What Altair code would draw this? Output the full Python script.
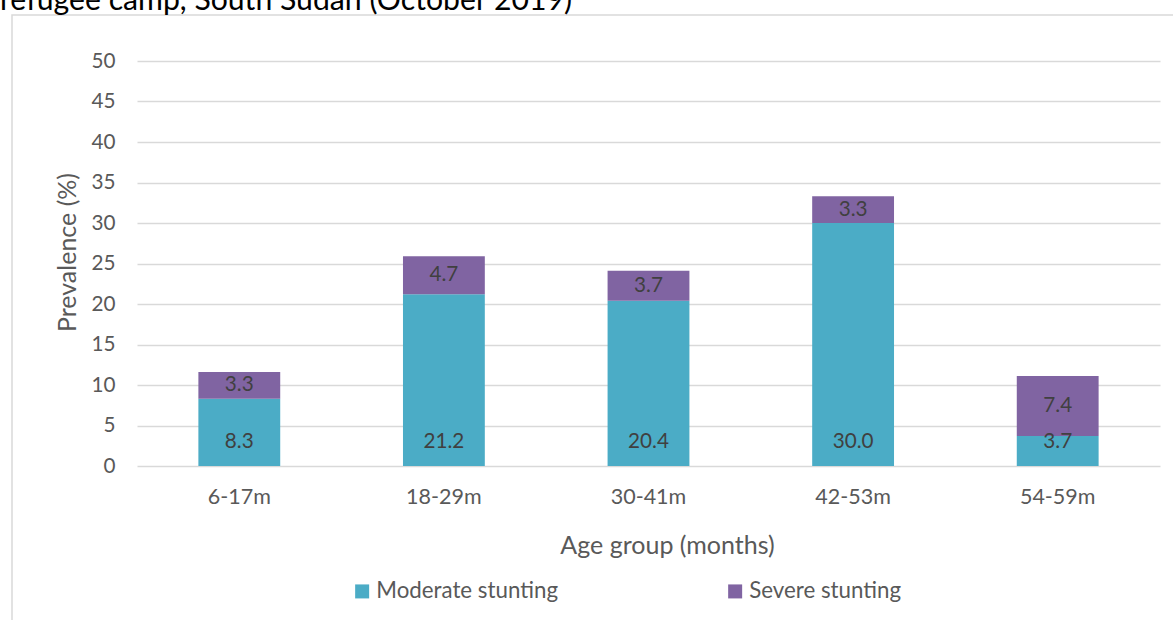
import altair as alt
import pandas as pd

# Stunting prevalence by age group, stacked by severity
ages = ["6-17m", "18-29m", "30-41m", "42-53m", "54-59m"]
moderate = [8.3, 21.2, 20.4, 30.0, 3.7]
severe = [3.3, 4.7, 3.7, 3.3, 7.4]
series = ["Moderate stunting", "Severe stunting"]
colors = ["#4BACC6", "#8064A2"]
y_ticks = [0, 5, 10, 15, 20, 25, 30, 35, 40, 45, 50]
caption = "refugee camp, South Sudan (October 2019)"

FONT = "Lato"
GRID = "#d9d9d9"
TEXT = "#595959"

rows = []
for a, m, s in zip(ages, moderate, severe):
    rows.append({"age": a, "type": series[0], "value": m, "rank": 0})
    rows.append({"age": a, "type": series[1], "value": s, "rank": 1})
bars_df = pd.DataFrame(rows)

# label anchors: moderate labels sit near the bar base, severe labels mid-segment
mod_labels = pd.DataFrame({"age": ages, "value": moderate, "pos": [0.0] * len(ages)})
sev_labels = pd.DataFrame({
    "age": ages,
    "value": severe,
    "pos": [m + s / 2 for m, s in zip(moderate, severe)],
})

x_enc = alt.X(
    "age:N",
    sort=ages,
    scale=alt.Scale(paddingInner=0.6, paddingOuter=0.3),
    axis=alt.Axis(
        title="Age group (months)",
        labelAngle=0,
        labelFont=FONT,
        labelFontSize=21.5,
        labelColor=TEXT,
        labelPadding=31,
        labelBaseline="middle",
        ticks=False,
        domain=False,
        grid=False,
        titleFont=FONT,
        titleFontSize=25,
        titleFontWeight="normal",
        titleColor=TEXT,
        titleX=530,
        titleY=79,
        titleBaseline="middle",
        titleAlign="center",
    ),
)

y_scale = alt.Scale(domain=[0, 50], nice=False)

bars = alt.Chart(bars_df).mark_bar().encode(
    x=x_enc,
    y=alt.Y(
        "value:Q",
        stack="zero",
        scale=y_scale,
        axis=alt.Axis(
            title="Prevalence (%)",
            values=y_ticks,
            labelFont=FONT,
            labelFontSize=20.7,
            labelColor=TEXT,
            labelPadding=22,
            ticks=False,
            domain=False,
            grid=True,
            gridColor=GRID,
            gridWidth=1.5,
            titleFont=FONT,
            titleFontSize=25,
            titleFontWeight="normal",
            titleColor=TEXT,
            titleX=-70,
            titleY=191,
            titleBaseline="middle",
            titleAlign="center",
        ),
    ),
    color=alt.Color(
        "type:N",
        scale=alt.Scale(domain=series, range=colors),
        legend=alt.Legend(
            title=None,
            orient="none",
            direction="horizontal",
            legendX=214,
            legendY=519,
            symbolType="square",
            symbolSize=196,
            symbolStrokeWidth=0,
            symbolOpacity=1,
            labelFont=FONT,
            labelFontSize=22.3,
            labelColor=TEXT,
            labelOffset=3,
            labelLimit=400,
            columnPadding=166,
        ),
    ),
    order=alt.Order("rank:Q", sort="ascending"),
)

mod_text = alt.Chart(mod_labels).mark_text(
    font=FONT, fontSize=20.7, color="#404040", baseline="middle", dy=-24
).encode(
    x=alt.X("age:N", sort=ages),
    y=alt.Y("pos:Q", scale=y_scale),
    text=alt.Text("value:Q", format=".1f"),
)

sev_text = alt.Chart(sev_labels).mark_text(
    font=FONT, fontSize=20.7, color="#404040", baseline="middle"
).encode(
    x=alt.X("age:N", sort=ages),
    y=alt.Y("pos:Q", scale=y_scale),
    text=alt.Text("value:Q", format=".1f"),
)

# outer chart frame and the caption line above it
frame = alt.Chart(pd.DataFrame({"k": [0]})).mark_rect(
    filled=False, stroke=GRID, strokeWidth=1.5
).encode(
    x=alt.value(-125), x2=alt.value(1100), y=alt.value(-46), y2=alt.value(700)
)

caption_text = alt.Chart(pd.DataFrame({"t": [caption]})).mark_text(
    font=FONT, fontSize=30.2, color="#000000", align="left", baseline="alphabetic"
).encode(
    text="t:N", x=alt.value(-137), y=alt.value(-51)
)

chart = alt.layer(frame, caption_text, bars, mod_text, sev_text).properties(
    width=1023,
    height=405,
    padding={"left": 137, "top": 61, "right": 13, "bottom": 154},
    autosize=alt.AutoSizeParams(type="none"),
    background="white",
).configure_view(strokeWidth=0, stroke="transparent")

chart.save("out.html", embed_options={"renderer": "svg", "actions": False})
